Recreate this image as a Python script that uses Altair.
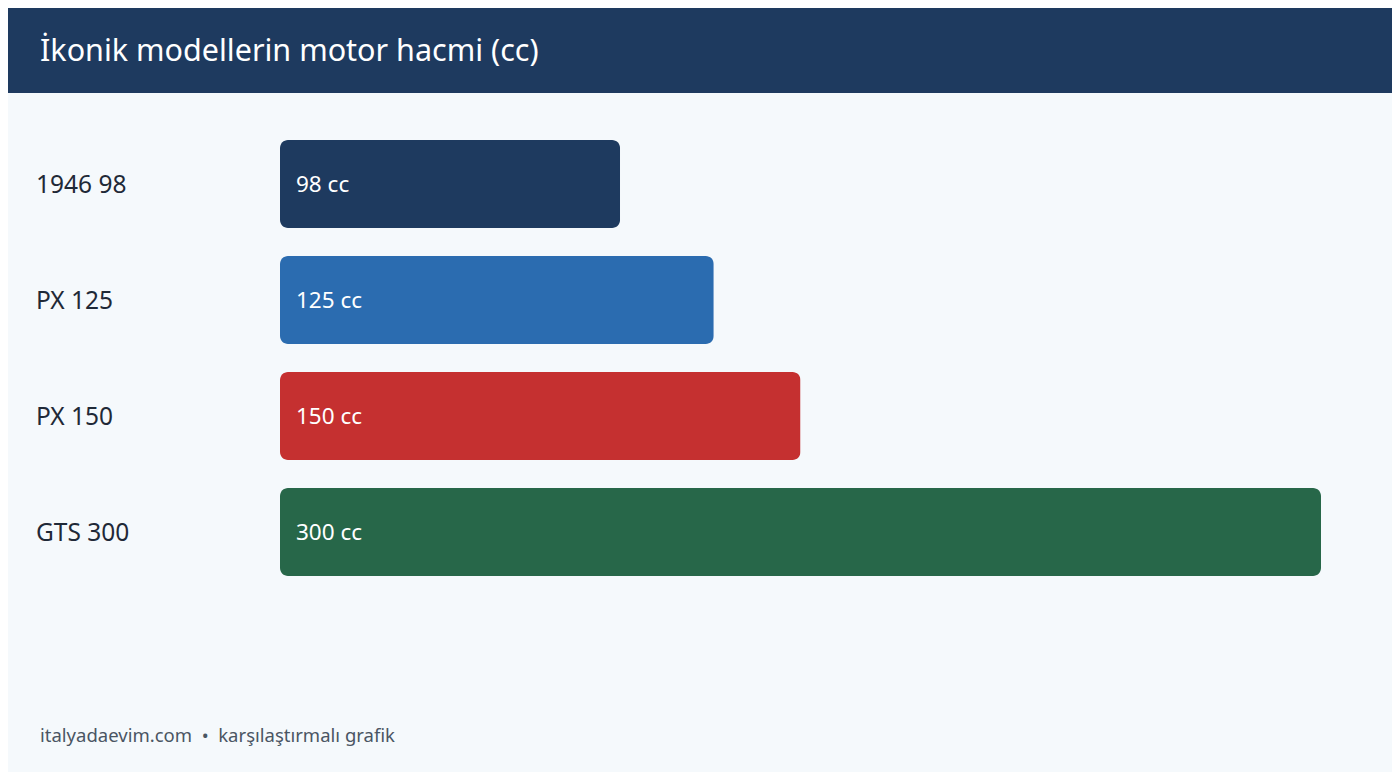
import altair as alt
import pandas as pd

models = ["1946 98", "PX 125", "PX 150", "GTS 300"]
cc_values = [98, 125, 150, 300]
value_labels = ["98 cc", "125 cc", "150 cc", "300 cc"]
bar_colors = ["#1e3a5f", "#2b6cb0", "#c53030", "#276749"]

title_text = "İkonik modellerin motor hacmi (cc)"
footer_text = "italyadaevim.com\u00a0\u00a0•\u00a0\u00a0karşılaştırmalı grafik"

df = pd.DataFrame({"model": models, "cc": cc_values, "label": value_labels, "color": bar_colors})
one = pd.DataFrame({"t": [title_text], "f": [footer_text]})

W, H = 1384, 764
FONT = "Noto Sans"

y_scale = alt.Scale(domain=models, range=[118, 582], paddingInner=0.2414, paddingOuter=0.1207)
x_scale = alt.Scale(domain=[0, 300], range=[272, 1313])

header = alt.Chart(one).mark_rect(color="#1e3a5f").encode(
    x=alt.value(-20), x2=alt.value(W + 20), y=alt.value(-20), y2=alt.value(85)
)
title = alt.Chart(one).mark_text(
    align="left", baseline="middle", fontSize=30.5, color="white", font=FONT
).encode(x=alt.value(32), y=alt.value(44), text="t:N")

bars = alt.Chart(df).mark_bar(cornerRadius=8).encode(
    y=alt.Y("model:N", scale=y_scale, axis=None, sort=models),
    x=alt.X("cc:Q", scale=x_scale, axis=None),
    x2=alt.value(272),
    color=alt.Color("color:N", scale=None, legend=None),
)
cat_labels = alt.Chart(df).mark_text(
    align="left", baseline="middle", fontSize=24.5, color="#1f2937", font=FONT, dy=2
).encode(
    y=alt.Y("model:N", scale=y_scale, axis=None, sort=models),
    x=alt.value(28),
    text="model:N",
)
val_labels = alt.Chart(df).mark_text(
    align="left", baseline="middle", fontSize=22.5, color="white", font=FONT, dy=1
).encode(
    y=alt.Y("model:N", scale=y_scale, axis=None, sort=models),
    x=alt.value(288),
    text="label:N",
)
footer = alt.Chart(one).mark_text(
    align="left", baseline="middle", fontSize=18.5, color="#4a5563", font=FONT
).encode(x=alt.value(32), y=alt.value(728), text="f:N")

chart = alt.layer(header, title, bars, cat_labels, val_labels, footer).properties(
    width=W, height=H, padding=0, autosize=alt.AutoSizeParams(type="none"),
    background="#f5f9fc",
).configure_view(stroke=None)

chart.save("out.html", embed_options={"renderer": "svg", "actions": False})
